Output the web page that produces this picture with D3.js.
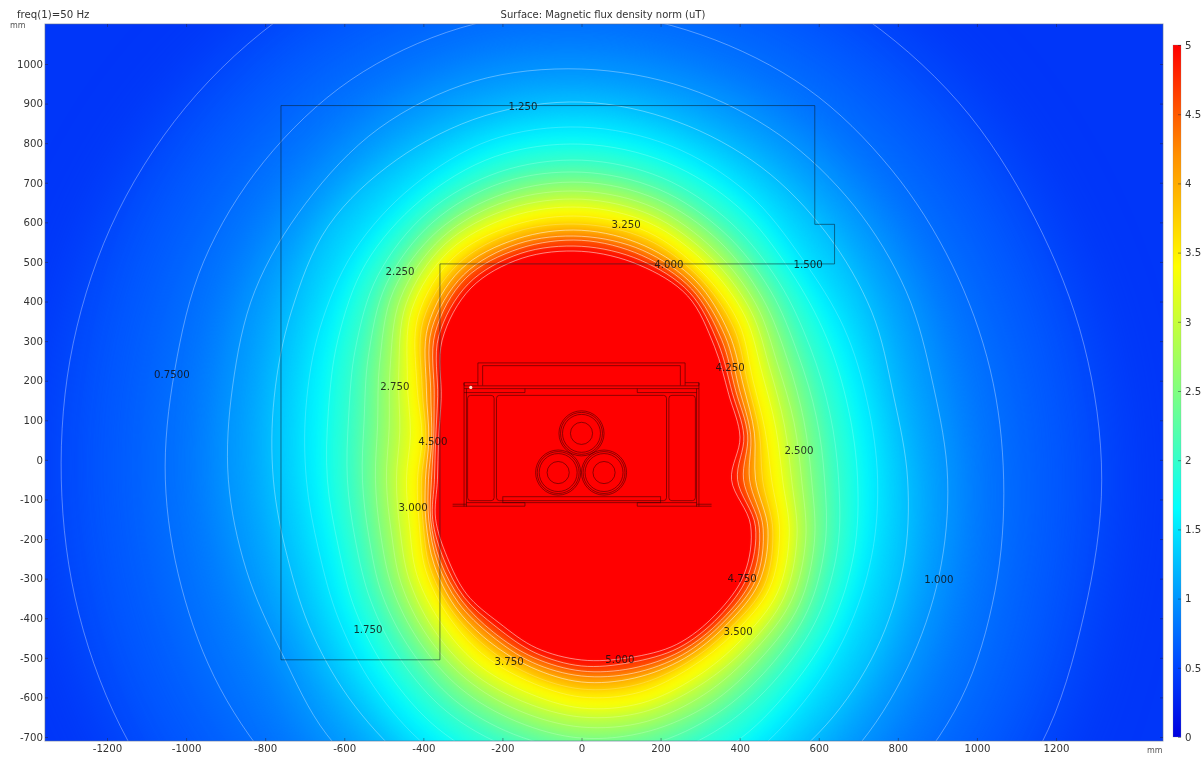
<!DOCTYPE html>
<html><head><meta charset="utf-8">
<style>
html,body{margin:0;padding:0;background:#fff}
svg{display:block;filter:blur(0.4px)}
text{font-family:"DejaVu Sans",sans-serif}
</style>
<script src="https://cdn.jsdelivr.net/npm/d3@7"></script>
</head><body>
<div id="chart"></div>
<script>
// ---- chart data ----
const titleText = "Surface: Magnetic flux density norm (uT)";
const freqText = "freq(1)=50 Hz";
const unitText = "mm";
const xTicks = [-1200,-1000,-800,-600,-400,-200,0,200,400,600,800,1000,1200];
const yTicks = [-700,-600,-500,-400,-300,-200,-100,0,100,200,300,400,500,600,700,800,900,1000];
const barTicks = [0,0.5,1,1.5,2,2.5,3,3.5,4,4.5,5];
// rainbow colour table: value -> colour
const colourValues = [0,0.5,1,1.65,2.5,3.4,4.2,5];
const colourNames = ["#0000e0","#0044ff","#0096ff","#00ffff","#80ff80","#ffff00","#ff9000","#ff0000"];
// isolines: distance from the field centre along each ray, one row per level
const fieldCentre = [0,-50];          // mm
const radiusUnit = 2.53;              // mm per table unit
const rayAngles = [0,15,30,45,60,75,90,105,120,135,150,165,180,195,210,225,240,255,270,285,300,315,330,345];
const isoLevels = [0.5,0.75,1,1.25,1.5,1.75,2,2.25,2.5,2.75,3,3.25,3.5,3.75,4,4.25,4.5,4.75,5];
const isoRadii = [
 [520,520,523,533,542,552,558,558,552,544,535,526,520,520,523,526,530,535,538,538,535,532,530,520],
 [422,423,428,438,451,460,468,467,461,449,436,421,416,414,417,421,425,432,438,442,445,442,438,428],
 [366,364,375,386,397,405,410,412,405,390,377,361,353,347,346,360,370,378,385,388,388,384,376,370],
 [326,323,335,347,360,370,377,376,369,358,335,318,308,304,310,320,332,341,347,350,350,346,340,333],
 [296,296,303,312,331,345,352,351,338,322,302,285,275,272,280,293,308,318,324,326,324,314,306,300],
 [276,276,283,295,314,328,335,334,322,305,281,262,254,252,261,273,287,297,304,306,304,295,289,282],
 [257,257,264,279,297,312,319,318,308,288,261,241,234,234,243,255,268,277,284,287,284,278,273,265],
 [243,243,250,267,285,300,307,307,297,276,246,225,219,220,230,241,254,263,270,273,270,265,261,252],
 [230,230,238,256,275,290,297,296,287,266,233,211,206,208,218,229,241,250,258,260,258,253,251,241],
 [220,220,227,247,265,281,288,288,279,256,221,199,195,197,208,219,230,239,247,250,247,243,242,232],
 [210,210,218,239,257,273,280,280,272,248,211,188,185,188,199,210,221,229,237,240,237,235,234,223],
 [201,201,209,231,249,265,272,272,264,240,201,177,175,178,190,200,211,219,228,231,228,226,226,215],
 [190,190,198,222,240,256,263,263,256,231,190,165,164,168,180,190,200,208,217,220,217,216,217,205],
 [181,184,192,215,234,249,255,256,248,224,184,161,160,164,175,184,192,201,209,212,211,210,211,198],
 [174,179,187,208,229,242,249,249,242,217,179,158,156,161,170,179,186,194,202,205,206,205,205,193],
 [168,175,182,203,224,237,243,244,236,212,174,155,153,158,166,174,180,189,196,200,202,201,201,188],
 [162,172,178,198,220,232,239,239,232,207,170,153,150,156,163,170,176,184,191,195,198,198,197,184],
 [156,168,174,193,216,227,233,234,226,202,166,151,147,154,159,166,170,179,186,189,194,194,192,180],
 [150,164,170,188,212,222,228,229,221,197,162,148,144,151,155,162,165,174,180,184,190,190,188,175]
];
const backgroundValue = 0.4;
// contour labels: text, x mm, y mm
const labelTexts = ["1.250","3.250","4.000","1.500","2.250","0.7500","4.250","2.750","4.500","2.500","3.000","4.750","1.000","1.750","3.500","3.750","5.000"];
const labelX = [-148,113,221,573,-459,-1036,376,-472,-376,550,-426,406,904,-540,396,-183,97];
const labelY = [892,596,493,493,477,215,235,187,48,25,-121,-298,-301,-427,-434,-510,-505];
// geometry outlines, mm
const domainOutline = [[-760,895],[590,895],[590,595],[640,595],[640,495],[-358,495],[-358,-505],[-760,-505]];
const coverOutlines = [
 [[-262,188],[-262,245],[262,245],[262,188]],
 [[-250,188],[-250,238],[250,238],[250,188]],
 [[-297,188],[-297,195],[-262,195]],
 [[262,195],[297,195],[297,188]]
];
const structureLines = [
 [[-297,187],[297,187]],[[-297,180],[297,180]],
 [[-297,195],[-297,-118]],[[-291,180],[-291,-118]],
 [[291,180],[291,-118]],[[297,195],[297,-118]],
 [[-326,-117],[-143,-117]],[[141,-117],[329,-117]],
 [[-326,-112],[-291,-112]],[[291,-112],[329,-112]],
 [[-291,-108],[-143,-108]],[[141,-108],[291,-108]],
 [[-143,-117],[-143,-108]],[[141,-117],[141,-108]],
 [[-297,170],[-143,170]],[[141,170],[291,170]],
 [[-143,180],[-143,170]],[[141,180],[141,170]]
];
const cellRects = [ // x0,y0,x1,y1
 [-288,163,-221,-103],[-215,163,215,-103],[221,163,288,-103]
];
const trayRect = [-199,-93,200,-108];
const cableCentres = [[0,67],[-59,-32],[57,-32]];
const cableRings = [57,53,48,28];
const hotSpot = [-280,183];

// ---- layout ----
const W=1202,H=757;
const plotL=45,plotR=1163,plotT=24,plotB=741;
const barL=1173,barR=1181,barT=45,barB=737;

const x=d3.scaleLinear().domain([-1200,1200]).range([107,1056]);
const y=d3.scaleLinear().domain([-700,1000]).range([737,64]);
const colour=d3.scaleLinear().domain(colourValues).range(colourNames).clamp(true);
const barY=d3.scaleLinear().domain([0,5]).range([barB,barT]);

const svg=d3.select("#chart").append("svg").attr("width",W).attr("height",H);
const defs=svg.append("defs");
defs.append("clipPath").attr("id","plotClip").append("rect")
  .attr("x",plotL).attr("y",plotT).attr("width",plotR-plotL).attr("height",plotB-plotT);

// outline of each level through the scales
const rayPoints = row => row.map((r,i)=>{
  const a=rayAngles[i]*Math.PI/180;
  return [x(fieldCentre[0]+r*radiusUnit*Math.cos(a)), y(fieldCentre[1]+r*radiusUnit*Math.sin(a))];
});
const closedCurve=d3.line().curve(d3.curveCatmullRomClosed.alpha(0.5));
const isoPaths=isoRadii.map(row=>closedCurve(rayPoints(row)));

const plot=svg.append("g").attr("clip-path","url(#plotClip)");
plot.append("rect").attr("x",plotL).attr("y",plotT).attr("width",plotR-plotL).attr("height",plotB-plotT)
  .attr("fill",colour(backgroundValue));

// nested fills: each softened by the gap to the level outside it
isoLevels.forEach((lev,i)=>{
  const gap = i===0 ? 90 : d3.median(isoRadii[i].map((r,k)=>isoRadii[i-1][k]-r));
  const sigma = Math.max(0.8, gap*0.4);
  const fid="soft"+i;
  const f=defs.append("filter").attr("id",fid).attr("filterUnits","userSpaceOnUse")
    .attr("x",-400).attr("y",-400).attr("width",W+800).attr("height",H+800)
    .attr("color-interpolation-filters","sRGB");
  f.append("feGaussianBlur").attr("stdDeviation",sigma);
  const next = i<isoLevels.length-1 ? (lev+isoLevels[i+1])/2 : 5;
  plot.append("path").attr("d",isoPaths[i]).attr("fill",colour(next)).attr("filter",`url(#${fid})`);
});
// contour lines
plot.selectAll("path.iso").data(isoPaths).join("path").attr("class","iso")
  .attr("d",d=>d).attr("fill","none").attr("stroke","#fff")
  .attr("stroke-opacity",(d,i)=>isoLevels[i]>=4 ? 0.5 : (isoLevels[i]>=1.5 ? 0.2 : 0.34)).attr("stroke-width",1);

// geometry
const geo=plot.append("g").attr("fill","none").attr("stroke","#300").attr("stroke-opacity",0.55).attr("stroke-width",1);
const poly=d3.line().x(d=>x(d[0])).y(d=>y(d[1]));
geo.append("path").attr("d",poly(domainOutline)+"Z").attr("stroke-opacity",0.55).attr("stroke","#0a2030").attr("stroke-width",1);
geo.selectAll("path.cov").data(coverOutlines.concat(structureLines)).join("path").attr("class","cov").attr("d",d=>poly(d));
geo.selectAll("rect.cell").data(cellRects).join("rect").attr("class","cell")
  .attr("x",d=>x(d[0])).attr("y",d=>y(d[1])).attr("width",d=>x(d[2])-x(d[0])).attr("height",d=>y(d[3])-y(d[1])).attr("rx",3);
geo.append("rect").attr("x",x(trayRect[0])).attr("y",y(trayRect[1])).attr("width",x(trayRect[2])-x(trayRect[0])).attr("height",y(trayRect[3])-y(trayRect[1]));
cableCentres.forEach(c=>cableRings.forEach(r=>{
  geo.append("circle").attr("cx",x(c[0])).attr("cy",y(c[1])).attr("r",x(r)-x(0));
}));
plot.append("circle").attr("cx",x(hotSpot[0])).attr("cy",y(hotSpot[1])).attr("r",1.6).attr("fill","#ffe0d0");

// contour labels
svg.append("g").selectAll("text").data(labelTexts).join("text")
  .attr("x",(d,i)=>x(labelX[i])).attr("y",(d,i)=>y(labelY[i])).attr("dy","0.36em")
  .attr("text-anchor","middle").attr("font-size",10.2).attr("fill","#111").attr("fill-opacity",0.85).text(d=>d);

// frame and inner ticks
svg.append("rect").attr("x",plotL).attr("y",plotT).attr("width",plotR-plotL).attr("height",plotB-plotT)
  .attr("fill","none").attr("stroke","#5a6a90").attr("stroke-opacity",0.6).attr("stroke-width",1);
const tickStyle=g=>{g.select(".domain").remove();g.selectAll("line").attr("stroke","#223").attr("stroke-opacity",0.45);g.selectAll("text").remove();};
svg.append("g").attr("transform",`translate(0,${plotB})`).call(d3.axisBottom(x).tickValues(xTicks).tickSize(-3)).call(tickStyle);
svg.append("g").attr("transform",`translate(0,${plotT})`).call(d3.axisTop(x).tickValues(xTicks).tickSize(-3)).call(tickStyle);
svg.append("g").attr("transform",`translate(${plotL},0)`).call(d3.axisLeft(y).tickValues(yTicks).tickSize(-3)).call(tickStyle);
svg.append("g").attr("transform",`translate(${plotR},0)`).call(d3.axisRight(y).tickValues(yTicks).tickSize(-3)).call(tickStyle);

// axis labels
const labelStyle=g=>{g.select(".domain").remove();g.selectAll("line").remove();g.selectAll("text").attr("fill","#333").attr("font-size",10.2).attr("font-family","DejaVu Sans");};
svg.append("g").attr("transform",`translate(0,${plotB+3})`)
  .call(d3.axisBottom(x).tickValues(xTicks).tickSize(0).tickPadding(1).tickFormat(String)).call(labelStyle);
svg.append("g").attr("transform",`translate(${plotL-1},0)`)
  .call(d3.axisLeft(y).tickValues(yTicks).tickSize(0).tickPadding(1).tickFormat(String)).call(labelStyle);

// titles
svg.append("text").attr("x",17).attr("y",18).attr("font-size",10.2).attr("fill","#333").text(freqText);
svg.append("text").attr("x",603).attr("y",18).attr("text-anchor","middle").attr("font-size",10).attr("fill","#333").text(titleText);
svg.append("text").attr("x",10).attr("y",28).attr("font-size",8).attr("fill","#555").text(unitText);
svg.append("text").attr("x",1147).attr("y",753).attr("font-size",8).attr("fill","#555").text(unitText);

// colour bar
const grad=defs.append("linearGradient").attr("id","barGrad").attr("x1",0).attr("x2",0).attr("y1",1).attr("y2",0);
colourValues.forEach((v,i)=>grad.append("stop").attr("offset",v/5).attr("stop-color",colourNames[i]));
svg.append("rect").attr("x",barL).attr("y",barT).attr("width",barR-barL).attr("height",barB-barT)
  .attr("fill","url(#barGrad)").attr("stroke","#888").attr("stroke-opacity",0.4).attr("stroke-width",0.6);
svg.append("g").attr("transform",`translate(${barR+3},0)`)
  .call(d3.axisRight(barY).tickValues(barTicks).tickSize(0).tickPadding(1).tickFormat(String)).call(labelStyle);
svg.append("g").attr("transform",`translate(${barR},0)`).call(d3.axisRight(barY).tickValues(barTicks).tickSize(-3)).call(tickStyle);
</script>
</body></html>
